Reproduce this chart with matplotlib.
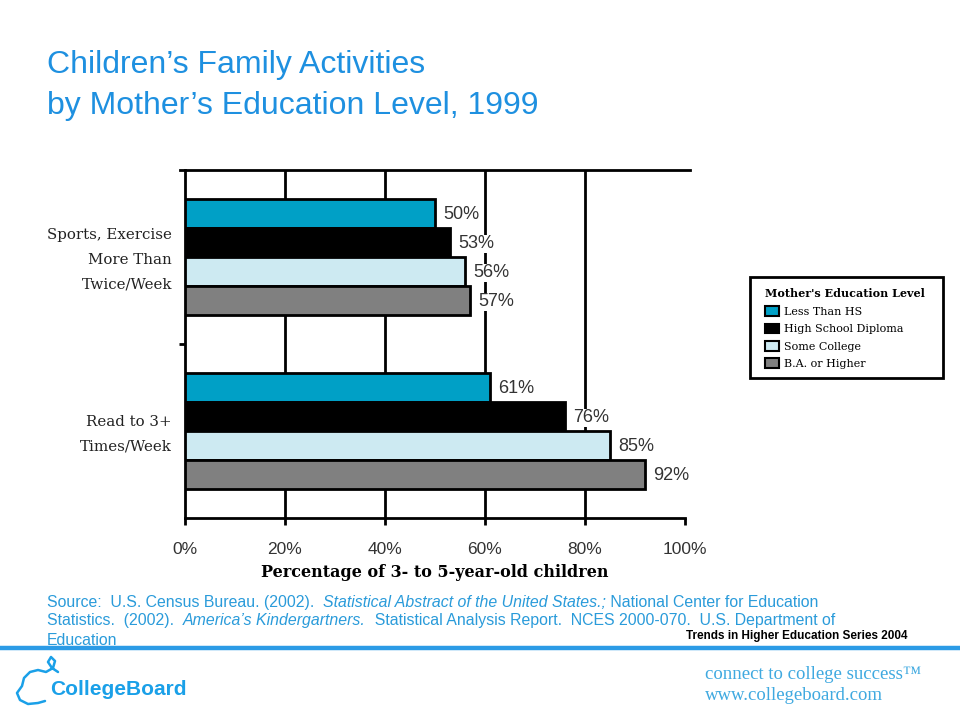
import numpy as np
import matplotlib.pyplot as plt
from matplotlib.patches import Patch, Rectangle

categories = ["Sports, Exercise\nMore Than\nTwice/Week", "Read to 3+\nTimes/Week"]
levels = ["Less Than HS", "High School Diploma", "Some College", "B.A. or Higher"]
values = {
    "Less Than HS": [50, 61],
    "High School Diploma": [53, 76],
    "Some College": [56, 85],
    "B.A. or Higher": [57, 92],
}
colors = ["#00A0C6", "#000000", "#CDEAF2", "#808080"]
xticks = [0, 20, 40, 60, 80, 100]

blue = "#1E90E0"

fig = plt.figure(figsize=(9.6, 7.2), dpi=100)
ax = fig.add_axes([0.1927, 0.2806, 0.5208, 0.4833])

group_pos = np.array([0, 6])
offsets = [-1.5, -0.5, 0.5, 1.5]
for i, lev in enumerate(levels):
    y = group_pos + offsets[i]
    ax.barh(y, values[lev], height=1.0, color=colors[i], edgecolor="black",
            linewidth=2, zorder=3)
    for yy, v in zip(y, values[lev]):
        ax.text(v + 1.6, yy + 0.05, f"{v}%", va="center", ha="left",
                fontsize=13, color="#333333", family="Liberation Sans",
                zorder=4,
                bbox=dict(facecolor="white", edgecolor="none", pad=0.3))

ax.set_xlim(0, 100)
ax.set_ylim(9, -3)
for x in xticks[1:-1]:
    ax.axvline(x, color="black", lw=2, zorder=1)

ax.spines["right"].set_visible(False)
for s in ["top", "bottom", "left"]:
    ax.spines[s].set_linewidth(2)
ax.spines["top"].set_bounds(-1, 101)

ax.set_xticks(xticks)
ax.set_xticklabels([f"{x}%" for x in xticks], fontsize=12.5,
                   family="Liberation Sans", color="#333333")
ax.tick_params(axis="x", direction="out", length=5, width=2, pad=12)
ax.set_yticks([3])
ax.set_yticklabels([""])
ax.tick_params(axis="y", direction="out", length=4, width=2)

for g, cat in zip(group_pos, categories):
    ax.text(-2.6, g + 0.1, cat, ha="right", va="center", fontsize=10.8,
            family="DejaVu Serif", color="#222222", linespacing=1.95)

ax.set_xlabel("Percentage of 3- to 5-year-old children", fontsize=11.5,
              family="DejaVu Serif", fontweight="bold", labelpad=5)

# legend (frame drawn separately so it can be wider than the content)
handles = [Patch(facecolor=c, edgecolor="black", linewidth=1.5) for c in colors]
leg = fig.legend(handles, levels, loc="upper left",
                 bbox_to_anchor=(0.781, 0.621),
                 title="Mother's Education Level",
                 title_fontproperties={"family": "DejaVu Serif", "weight": "bold", "size": 8},
                 prop={"family": "DejaVu Serif", "size": 8},
                 frameon=False,
                 handlelength=1.2, handleheight=1.0, handletextpad=0.5,
                 labelspacing=0.6, borderpad=0.9, alignment="left")
fig.add_artist(Rectangle((750 / 960, 1 - 378 / 720), 193 / 960, 101 / 720,
                         transform=fig.transFigure, facecolor="none",
                         edgecolor="black", lw=2))

fig.text(0.049, 0.8986, "Children\u2019s Family Activities", ha="left",
         va="baseline", fontsize=23, color=blue, family="Liberation Sans")
fig.text(0.049, 0.8417, "by Mother\u2019s Education Level, 1999", ha="left",
         va="baseline", fontsize=23, color=blue, family="Liberation Sans")

# source note with italic pieces
renderer = fig.canvas.get_renderer()
src_lines = [
    [("Source:  U.S. Census Bureau. (2002).  ", "normal"),
     ("Statistical Abstract of the United States.;", "italic"),
     (" National Center for Education", "normal")],
    [("Statistics.  (2002).  ", "normal"),
     ("America\u2019s Kindergartners.", "italic"),
     ("  Statistical Analysis Report.  NCES 2000-070.  U.S. Department of", "normal")],
    [("Education", "normal")],
]
line_y = [0.157, 0.132, 0.104]
for parts, ly in zip(src_lines, line_y):
    x = 0.049
    for txt, style in parts:
        t = fig.text(x, ly, txt, ha="left", va="baseline", fontsize=11.4,
                     color="#2A9BDA", family="Liberation Sans", style=style)
        bb = t.get_window_extent(renderer)
        x += bb.width / fig.bbox.width

fig.text(0.945, 0.1125, "Trends in Higher Education Series 2004", ha="right",
         va="baseline", fontsize=8.5, fontweight="bold", color="black",
         family="Liberation Sans", zorder=5)

fig.add_artist(plt.Line2D([0, 1], [0.0995, 0.0995], color="#2B9BE6", lw=3.2,
                          transform=fig.transFigure, zorder=10))

# rough logo outline
logo_px = [(58, 672), (52, 668), (48, 662), (51, 657), (55, 661), (53, 668),
           (46, 672), (38, 670), (30, 672), (24, 678), (22, 686), (17, 693),
           (20, 700), (28, 704), (38, 703), (45, 701)]
lx = [p[0] / 960 for p in logo_px]
ly = [1 - p[1] / 720 for p in logo_px]
fig.add_artist(plt.Line2D(lx, ly, color="#1AA0E8", lw=1.8,
                          transform=fig.transFigure, solid_capstyle="round",
                          solid_joinstyle="round"))

fig.text(0.052, 0.0347, "CollegeBoard", ha="left", va="baseline", fontsize=15,
         fontweight="bold", color="#1AA0E8", family="Liberation Sans")
fig.text(0.734, 0.057, "connect to college success\u2122", ha="left", va="baseline",
         fontsize=13.5, color="#3FA9E0", family="Liberation Serif")
fig.text(0.734, 0.028, "www.collegeboard.com", ha="left", va="baseline",
         fontsize=13.5, color="#3FA9E0", family="Liberation Serif")

fig.savefig("out.png", dpi=100)
